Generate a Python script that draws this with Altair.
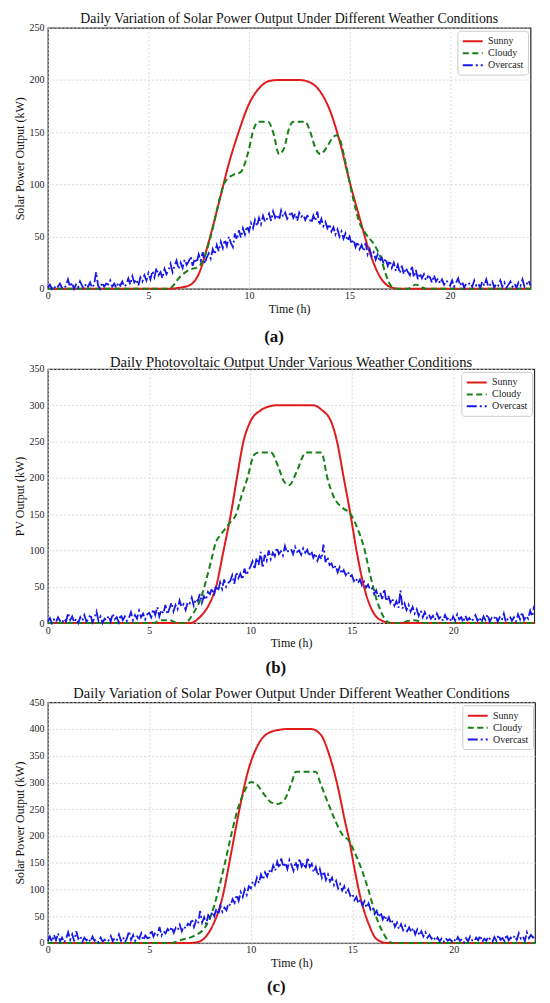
import altair as alt
import pandas as pd

SERIF = "Liberation Serif"
SERIES = ["Sunny", "Cloudy", "Overcast"]
COLORS = ["#e01b1b", "#178017", "#1717e6"]
DASHES = [[1, 0], [6, 3.5], [10, 3, 2, 3]]

TITLES = [
    "Daily Variation of Solar Power Output Under Different Weather Conditions",
    "Daily Photovoltaic Output Under Various Weather Conditions",
    "Daily Variation of Solar Power Output Under Different Weather Conditions",
]
Y_TITLES = ["Solar Power Output (kW)", "PV Output (kW)", "Solar Power Output (kW)"]
Y_MAX = [250, 350, 450]
Y_TICKS_A = [0, 50, 100, 150, 200, 250]
Y_TICKS_B = [0, 50, 100, 150, 200, 250, 300, 350]
Y_TICKS_C = [0, 50, 100, 150, 200, 250, 300, 350, 400, 450]
X_TICKS = [0, 5, 10, 15, 20]
CAPTIONS = ["(a)", "(b)", "(c)"]

# ---------- panel (a) ----------
SUNNY_A_T = [0, 6.0, 6.5, 7.0, 7.5, 8.0, 8.5, 9.0, 9.5, 10.0, 10.5, 11.0, 11.5, 12.0,
             12.5, 13.0, 13.5, 14.0, 14.5, 15.0, 15.5, 16.0, 16.5, 17.0, 17.5, 24]
SUNNY_A_V = [0, 0, 1, 3, 14, 45, 82, 120, 151, 177, 192, 199, 200, 200,
             200, 198, 190, 172, 142, 103, 68, 35, 12, 2, 0, 0]
CLOUDY_A_T = [0, 6.0, 6.6, 7.0, 7.5, 7.85, 8.2, 8.5, 8.8, 9.2, 9.6, 9.95, 10.25, 10.5,
              10.95, 11.2, 11.5, 11.75, 12.0, 12.2, 12.8, 13.05, 13.3, 13.55, 13.85, 14.1,
              14.35, 14.5, 14.8, 15.15, 15.5, 15.8, 16.2, 16.55, 16.8, 17.1, 17.4, 17.9,
              18.3, 18.8, 24]
CLOUDY_A_V = [0, 0, 12, 18, 21, 34, 58, 83, 102, 109, 112, 130, 154, 160,
              160, 150, 129, 135, 154, 160, 160, 150, 135, 129, 135, 143,
              147, 144, 121, 89, 63, 53, 43, 30, 14, 2, 0, 0,
              4, 0, 0]
OVC_A_V = [1, 4, 0, 3, 0, 2, 5, 1, 0, 3,
           9, 2, 6, 0, 4, 1, 7, 3, 0, 5,
           2, 6, 1, 4, 16, 3, 0, 6, 2, 5,
           4, 8, 2, 5, 1, 6, 3, 7, 2, 4,
           10, 4, 12, 6, 9, 3, 11, 7, 13, 8,
           15, 9, 17, 11, 20, 13, 16, 10, 19, 14,
           18, 24, 16, 22, 27, 19, 25, 20, 28, 23,
           26, 31, 22, 29, 25, 33, 27, 35, 24, 30,
           34, 29, 38, 33, 42, 36, 45, 39, 47, 41,
           50, 44, 40, 53, 47, 56, 49, 58, 52, 60,
           55, 63, 58, 66, 60, 68, 62, 70, 64, 67,
           72, 65, 74, 68, 71, 66, 75, 69, 73, 67,
           70, 74, 68, 72, 65, 73, 69, 71, 66, 70,
           68, 63, 70, 65, 74, 61, 67, 60, 64, 58,
           62, 55, 59, 52, 57, 50, 55, 48, 53, 46,
           50, 43, 47, 40, 45, 38, 42, 36, 44, 33,
           38, 31, 35, 28, 33, 26, 30, 24, 29, 22,
           27, 20, 25, 17, 23, 15, 22, 14, 20, 16,
           13, 22, 11, 18, 9, 15, 10, 14, 8, 12,
           11, 6, 13, 7, 10, 5, 9, 4, 8, 6,
           3, 8, 2, 6, 10, 3, 7, 1, 5, 4,
           6, 2, 8, 3, 5, 1, 7, 3, 9, 2,
           4, 7, 1, 5, 3, 8, 2, 6, 1, 4,
           7, 2, 5, 1, 6, 3, 9, 2, 4, 8,
           3]

# ---------- panel (b) ----------
SUNNY_B_T = [0, 7.0, 7.56, 8.0, 8.3, 8.67, 9.03, 9.33, 9.65, 10.0, 10.5, 11.0, 11.3,
             13.1, 13.5, 14.0, 14.27, 14.6, 14.93, 15.23, 15.6, 16.17, 16.6, 17.0, 24]
SUNNY_B_V = [0, 0, 10, 28, 50, 100, 150, 200, 250, 278, 293, 299, 300,
             300, 294, 276, 250, 200, 150, 100, 50, 10, 2, 0, 0]
CLOUDY_B_T = [0, 5.2, 5.6, 6.0, 6.4, 6.74, 7.23, 7.56, 7.8, 8.05, 8.3, 8.54, 9.03, 9.28,
              9.52, 9.85, 10.18, 10.43, 11.0, 11.4, 11.65, 11.9, 12.3, 12.63, 12.75, 13.5,
              13.79, 14.12, 14.53, 14.94, 15.27, 15.6, 15.9, 16.25, 16.6, 16.9, 17.3, 17.8,
              18.1, 18.6, 24]
CLOUDY_B_V = [0, 0, 4, 4, 0, 0, 16, 35, 58, 85, 112, 122, 140, 149,
              172, 200, 232, 235, 235, 213, 195, 190, 210, 232, 235, 235,
              200, 173, 159, 150, 131, 104, 67, 30, 7, 0, 0, 3,
              4, 0, 0]
OVC_B_V = [2, 7, 0, 5, 1, 8, 3, 0, 6, 2,
           14, 4, 9, 1, 6, 0, 8, 3, 11, 2,
           5, 12, 1, 7, 16, 3, 9, 0, 6, 4,
           10, 2, 13, 5, 8, 1, 12, 4, 9, 3,
           7, 15, 4, 11, 6, 17, 8, 13, 5, 12,
           14, 8, 19, 11, 22, 9, 18, 13, 25, 12,
           20, 28, 16, 25, 19, 31, 22, 26, 18, 29,
           27, 35, 24, 33, 30, 40, 28, 37, 32, 43,
           40, 48, 38, 52, 44, 56, 47, 60, 50, 55,
           58, 66, 54, 70, 62, 68, 60, 75, 66, 72,
           78, 85, 74, 90, 80, 98, 76, 94, 86, 100,
           88, 97, 92, 104, 95, 99, 93, 106, 97, 101,
           102, 95, 105, 98, 100, 94, 103, 97, 101, 92,
           99, 90, 96, 86, 93, 88, 108, 84, 91, 80,
           82, 74, 79, 70, 77, 68, 73, 66, 71, 64,
           66, 58, 62, 55, 60, 52, 57, 49, 53, 46,
           48, 40, 45, 36, 42, 33, 47, 30, 38, 28,
           34, 24, 30, 21, 45, 20, 27, 18, 25, 16,
           22, 13, 19, 10, 17, 8, 15, 7, 12, 6,
           10, 4, 13, 6, 9, 3, 11, 5, 8, 2,
           9, 3, 12, 5, 8, 1, 10, 4, 7, 2,
           6, 11, 3, 8, 1, 9, 4, 12, 2, 7,
           5, 10, 2, 8, 4, 13, 1, 6, 9, 3,
           8, 2, 12, 5, 15, 4, 10, 6, 17, 9,
           24]

# ---------- panel (c) ----------
SUNNY_C_T = [0, 7.0, 7.3, 7.74, 8.15, 8.56, 9.05, 9.45, 9.86, 10.27, 10.84, 11.5, 11.8,
             12.96, 13.45, 13.86, 14.26, 14.67, 14.85, 15.1, 15.4, 15.81, 16.2, 16.7, 24]
SUNNY_C_V = [0, 0, 1, 10, 35, 79, 172, 252, 321, 364, 392, 399, 400,
             400, 389, 352, 296, 222, 192, 140, 85, 35, 7, 0, 0]
CLOUDY_C_T = [0, 6.1, 6.6, 7.25, 7.74, 8.06, 8.39, 8.71, 9.04, 9.37, 9.61, 10.02, 10.27,
              10.67, 11.0, 11.33, 11.66, 11.98, 12.22, 13.2, 13.45, 13.77, 14.1, 14.5,
              14.85, 15.15, 15.48, 15.81, 16.13, 16.46, 16.78, 17.0, 24]
CLOUDY_C_V = [0, 0, 6, 14, 29, 54, 97, 147, 203, 252, 277, 301, 297,
              277, 263, 260, 268, 296, 320, 320, 296, 265, 234, 203,
              190, 166, 135, 97, 54, 23, 4, 0, 0]
OVC_C_V = [4, 12, 2, 15, 5, 18, 3, 10, 1, 8,
           20, 6, 16, 3, 22, 8, 13, 2, 10, 5,
           9, 2, 12, 4, 7, 1, 10, 3, 6, 2,
           5, 13, 3, 10, 6, 16, 4, 11, 2, 9,
           22, 6, 15, 4, 12, 8, 18, 5, 14, 9,
           10, 24, 12, 20, 15, 30, 14, 22, 18, 26,
           21, 30, 19, 28, 24, 34, 22, 31, 27, 36,
           33, 45, 30, 42, 36, 60, 38, 48, 35, 52,
           47, 58, 50, 64, 53, 70, 58, 66, 61, 74,
           70, 82, 75, 90, 79, 95, 86, 100, 90, 106,
           102, 115, 108, 122, 112, 128, 118, 132, 124, 136,
           130, 145, 135, 152, 140, 158, 142, 150, 138, 155,
           146, 135, 152, 140, 158, 143, 150, 138, 160, 142,
           148, 132, 142, 126, 138, 122, 134, 118, 128, 115,
           122, 108, 116, 102, 110, 98, 106, 92, 100, 88,
           92, 80, 86, 74, 82, 70, 78, 66, 74, 62,
           66, 54, 60, 48, 57, 44, 52, 40, 48, 36,
           42, 30, 38, 26, 35, 24, 32, 22, 29, 20,
           28, 16, 25, 14, 22, 12, 20, 10, 15, 8,
           12, 4, 10, 3, 8, 2, 9, 4, 7, 3,
           8, 2, 11, 4, 7, 1, 9, 3, 12, 5,
           3, 10, 5, 14, 2, 8, 4, 12, 6, 2,
           11, 4, 15, 6, 9, 3, 16, 5, 10, 7,
           14, 6, 18, 8, 12, 4, 20, 9, 15, 10,
           12]

OVC_T = [round(i * 0.1, 1) for i in range(241)]


def panel(title, ytitle, ymax, yticks, caption, sun_t, sun_v, cld_t, cld_v, ovc_v,
          width, height, cap_off, title_off, title_size):
    smooth = pd.DataFrame({
        "t": sun_t + cld_t,
        "v": sun_v + cld_v,
        "s": ["Sunny"] * len(sun_t) + ["Cloudy"] * len(cld_t),
    })
    ovc = pd.DataFrame({"t": OVC_T, "v": ovc_v, "s": ["Overcast"] * len(OVC_T)})
    x = alt.X("t:Q", scale=alt.Scale(domain=[0, 24], nice=False, zero=False),
              axis=alt.Axis(values=X_TICKS, title="Time (h)", labelFlush=False,
                            labelPadding=2, titlePadding=3))
    y = alt.Y("v:Q", scale=alt.Scale(domain=[0, ymax], nice=False),
              axis=alt.Axis(values=yticks, title=ytitle, labelPadding=4, titlePadding=2.4))
    color = alt.Color("s:N", scale=alt.Scale(domain=SERIES, range=COLORS),
                      legend=alt.Legend(title=None))
    dash = alt.StrokeDash("s:N", scale=alt.Scale(domain=SERIES, range=DASHES),
                          legend=alt.Legend(title=None))
    l1 = alt.Chart(smooth).mark_line(interpolate="monotone", strokeWidth=2).encode(
        x=x, y=y, color=color, strokeDash=dash)
    l2 = alt.Chart(ovc).mark_line(strokeWidth=1.8).encode(
        x=x, y=y, color=color, strokeDash=dash)
    lay = alt.layer(l1, l2).properties(
        width=width, height=height,
        title=alt.TitleParams(title, font=SERIF, fontSize=title_size, fontWeight="normal",
                              anchor="middle", frame="group", offset=title_off,
                              color="#111111"))
    return alt.vconcat(
        lay,
        title=alt.TitleParams(caption, orient="bottom", font=SERIF, fontSize=17,
                              fontWeight="bold", anchor="middle", frame="bounds",
                              offset=cap_off, color="#111111"),
    ).resolve_scale(color="independent", strokeDash="independent")


pa = panel(TITLES[0], Y_TITLES[0], Y_MAX[0], Y_TICKS_A, CAPTIONS[0], SUNNY_A_T, SUNNY_A_V,
           CLOUDY_A_T, CLOUDY_A_V, OVC_A_V, 484.5, 262, 13.3, -3.4, 13.9)
pb = panel(TITLES[1], Y_TITLES[1], Y_MAX[1], Y_TICKS_B, CAPTIONS[1], SUNNY_B_T, SUNNY_B_V,
           CLOUDY_B_T, CLOUDY_B_V, OVC_B_V, 488.2, 255, 10.1, -5.2, 14.7)
pc = panel(TITLES[2], Y_TITLES[2], Y_MAX[2], Y_TICKS_C, CAPTIONS[2], SUNNY_C_T, SUNNY_C_V,
           CLOUDY_C_T, CLOUDY_C_V, OVC_C_V, 489, 241.6, 10, -3.8, 14.5)

chart = alt.concat(pa, pb, pc, columns=1, align="none", spacing=8.5).resolve_scale(
    color="independent", strokeDash="independent"
).properties(
    padding={"left": 5, "top": 1, "right": 2, "bottom": 0}
).configure_view(
    stroke="#262626", strokeWidth=1.2
).configure_axis(
    labelFont=SERIF, labelFontSize=10, labelColor="#222222",
    titleFont=SERIF, titleFontSize=12, titleFontWeight="normal", titleColor="#111111",
    grid=True, gridColor="#cfcfcf", gridDash=[2, 2], gridWidth=0.8,
    domain=False, ticks=False, tickSize=0,
).configure_legend(
    orient="top-right", offset=2.5, padding=4.5, fillColor="rgba(255,255,255,0.85)",
    strokeColor="#cccccc", cornerRadius=3, labelFont=SERIF, labelFontSize=10,
    labelColor="#222222", symbolType="M-1,0H3", symbolSize=100, symbolStrokeWidth=2,
    rowPadding=1, labelOffset=14.3,
)

chart.save("out.html", embed_options={"renderer": "svg", "actions": False})
